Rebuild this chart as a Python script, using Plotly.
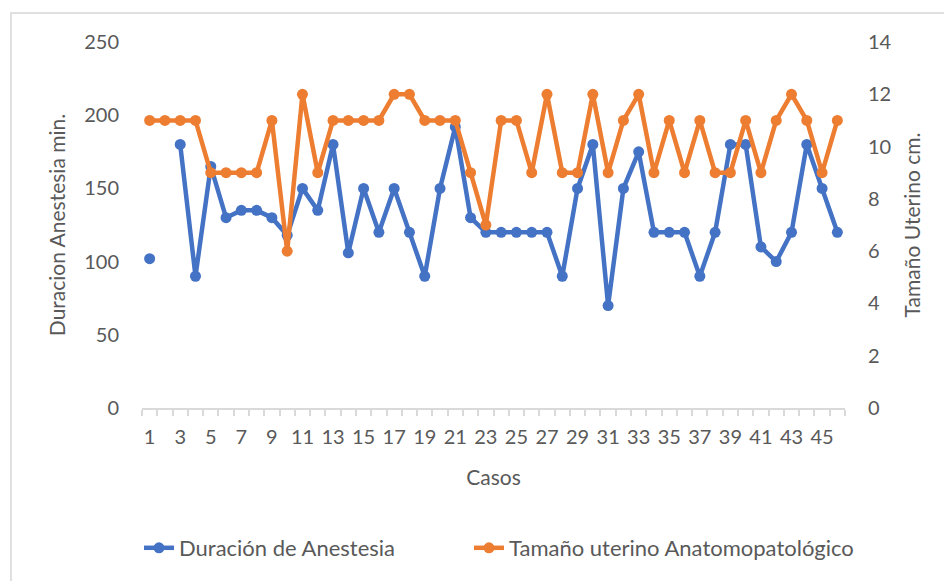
import plotly.graph_objects as go

casos = list(range(1, 47))
duracion = [102, None, 180, 90, 165, 130, 135, 135, 130, 118,
            150, 135, 180, 106, 150, 120, 150, 120, 90, 150,
            192, 130, 120, 120, 120, 120, 120, 90, 150, 180,
            70, 150, 175, 120, 120, 120, 90, 120, 180, 180,
            110, 100, 120, 180, 150, 120]
tamano = [11, 11, 11, 11, 9, 9, 9, 9, 11, 6,
          12, 9, 11, 11, 11, 11, 12, 12, 11, 11,
          11, 9, 7, 11, 11, 9, 12, 9, 9, 12,
          9, 11, 12, 9, 11, 9, 11, 9, 9, 11,
          9, 11, 12, 11, 9, 11]
x_ticks = list(range(1, 46, 2))
y_left_ticks = [0, 50, 100, 150, 200, 250]
y_right_ticks = [0, 2, 4, 6, 8, 10, 12, 14]

BLUE = "#4472C4"
ORANGE = "#ED7D31"
GRAY = "#595959"
FONT = "Lato"

# plot area in figure pixels (page offset of 8px body margin removed)
L, R, T, B = 134, 837, 34, 400
W, H = 944, 573
PW, PH = R - L, B - T

fig = go.Figure()
fig.add_trace(go.Scatter(
    x=casos, y=duracion, name="Duración de Anestesia", mode="lines+markers",
    line=dict(color=BLUE, width=4.5), marker=dict(color=BLUE, size=11),
    connectgaps=False, yaxis="y", legend="legend"))
fig.add_trace(go.Scatter(
    x=casos, y=tamano, name="Tamaño uterino Anatomopatológico", mode="lines+markers",
    line=dict(color=ORANGE, width=4.5), marker=dict(color=ORANGE, size=11),
    yaxis="y2", legend="legend2"))

legend_common = dict(orientation="h", xanchor="left", yanchor="middle",
                     y=(B - 540) / PH, font=dict(size=22, color=GRAY),
                     bgcolor="rgba(0,0,0,0)")

fig.update_layout(
    width=W, height=H,
    margin=dict(l=L, r=W - R, t=T, b=H - B),
    paper_bgcolor="white", plot_bgcolor="white",
    font=dict(family=FONT, size=20, color=GRAY),
    showlegend=True,
    legend=dict(x=(131 - L) / PW, **legend_common),
    legend2=dict(x=(461 - L) / PW, **legend_common),
    xaxis=dict(
        range=[0.5, 46.5], tickmode="array", tickvals=x_ticks,
        ticktext=[str(v) for v in x_ticks], ticks="", showgrid=False,
        showline=True, linecolor="#D9D9D9", linewidth=1.5, zeroline=False,
        ticklabelstandoff=10,
        minor=dict(ticks="outside", tick0=0.5, dtick=1, ticklen=6,
                   tickcolor="#D9D9D9", tickwidth=1.5, showgrid=False),
        title=dict(text="Casos", standoff=24, font=dict(size=21, color=GRAY)),
        tickfont=dict(size=20, color=GRAY)),
    yaxis=dict(
        range=[0, 250], tickmode="array", tickvals=y_left_ticks,
        showgrid=False, zeroline=False, showline=False, ticks="",
        ticklabelstandoff=22, tickfont=dict(size=20, color=GRAY),
        title=dict(text="Duracion Anestesia min.", standoff=12,
                   font=dict(size=21, color=GRAY))),
    yaxis2=dict(
        range=[0, 14], tickmode="array", tickvals=y_right_ticks,
        overlaying="y", side="right", showgrid=False, zeroline=False,
        showline=False, ticks="", ticklabelstandoff=22,
        tickfont=dict(size=20, color=GRAY),
        title=dict(text="Tamaño Uterino cm.", standoff=14,
                   font=dict(size=21, color=GRAY))),
    shapes=[dict(type="rect", xref="paper", yref="paper",
                 x0=(3 - L) / PW, x1=(960 - L) / PW,
                 y0=(B - 600) / PH, y1=(B - 5) / PH,
                 line=dict(color="#E0E0E0", width=2), fillcolor="rgba(0,0,0,0)",
                 layer="below")],
)

fig.write_html("out.html")
